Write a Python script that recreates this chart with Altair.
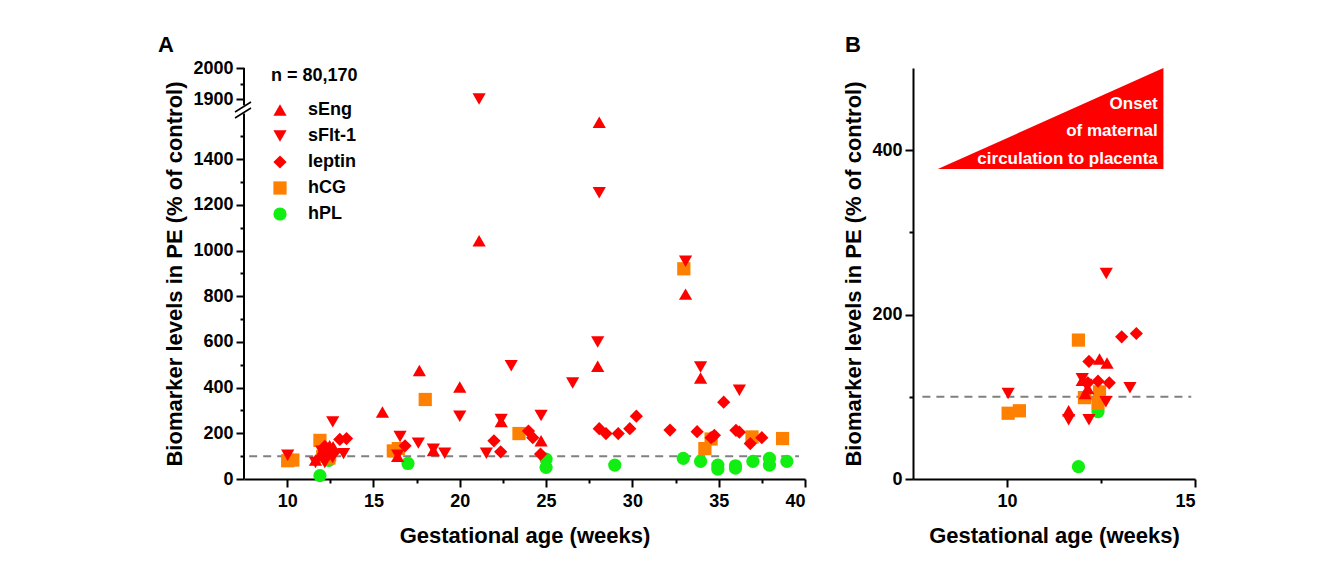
import altair as alt
import pandas as pd

FONT = "Liberation Sans"
RED = "#ff0000"
ORANGE = "#ff8000"
GREEN = "#11ee11"

series = ["sEng", "sFlt-1", "leptin", "hCG", "hPL"]
shapes = ["triangle-up", "triangle-down", "diamond", "square", "circle"]
colors = [RED, RED, RED, ORANGE, GREEN]
sizes = [175, 175, 215, 88, 112]

sEng_week = [11.64, 12.0, 12.08, 12.15, 12.46, 12.66, 15.52, 16.4, 17.66, 18.47, 20.0, 21.12,
             22.4, 24.71, 27.99, 28.08, 33.08, 33.95]
sEng_value = [83, 120, 104, 110, 146, 141, 293, 99, 475, 125, 403, 1043,
              252, 167, 493, 1561, 809, 442]

sFlt_week = [10.03, 11.64, 12.0, 12.1, 12.18, 12.63, 12.64, 13.27, 16.4, 16.54, 17.6, 18.47,
             19.13, 20.0, 21.12, 21.54, 22.4, 22.98, 24.71, 26.54, 27.99, 28.08, 33.08, 33.95, 36.2]
sFlt_value = [104, 72, 122, 115, 72, 94, 250, 111, 104, 186, 157, 130,
              113, 275, 1900, 113, 260, 496, 278, 420, 600, 1253, 953, 490, 388]

leptin_week = [12.15, 12.18, 12.42, 12.72, 13.05, 13.44, 16.83, 21.98, 22.37, 23.98, 24.23, 24.68,
               28.08, 28.47, 29.18, 29.85, 30.23, 32.18, 33.75, 34.56, 34.75, 35.29, 36.0, 36.2,
               36.83, 37.5]
leptin_value = [117, 143, 119, 117, 173, 177, 145, 167, 119, 210, 181, 109,
                220, 199, 199, 220, 275, 214, 207, 181, 191, 336, 213, 205,
                155, 181]

hCG_week = [10.03, 10.33, 11.9, 12.06, 12.42, 12.46, 16.15, 16.44, 18.0, 23.43, 32.98, 34.2,
            34.56, 36.93, 38.7]
hCG_value = [80, 83, 169, 99, 92, 106, 123, 133, 348, 199, 920, 133,
             175, 184, 177]

hPL_week = [11.9, 12.42, 17.0, 25.0, 25.0, 28.98, 32.95, 33.95, 34.95, 34.95, 35.97, 35.97,
            36.98, 37.94, 37.94, 38.95]
hPL_value = [15, 82, 68, 87, 51, 61, 90, 77, 61, 43, 58, 48,
             77, 90, 61, 77]

A_x_ticks = [10, 12.5, 15, 17.5, 20, 22.5, 25, 27.5, 30, 32.5, 35, 37.5, 40]
A_y_ticks = [0, 100, 200, 300, 400, 500, 600, 700, 800, 900, 1000, 1100, 1200, 1300, 1400,
             1500, 1900, 1950, 2000]
B_x_ticks = [10, 12.5, 15]
B_y_ticks = [0, 100, 200, 300, 400]

annotation_lines = ["Onset", "of maternal", "circulation to placenta"]

rows = []
for name, wk, val in [("hPL", hPL_week, hPL_value), ("hCG", hCG_week, hCG_value),
                      ("leptin", leptin_week, leptin_value), ("sFlt-1", sFlt_week, sFlt_value),
                      ("sEng", sEng_week, sEng_value)]:
    for w, v in zip(wk, val):
        rows.append({"week": w, "value": v, "marker": name})
df = pd.DataFrame(rows)


def axis(values, label_test, title, title_pad, label_pad, fmt="d", domain=True):
    return alt.Axis(
        values=values, format=fmt,
        labelExpr=f"({label_test}) ? datum.label : ''",
        tickSize={"condition": {"test": label_test, "value": 8}, "value": 4},
        tickWidth=2, tickColor="black", domain=domain, domainColor="black", domainWidth=2,
        grid=False, labelFont=FONT, labelFontSize=18, labelFontWeight="bold", labelColor="black",
        labelPadding=label_pad, title=title, titleFont=FONT, titleFontSize=22,
        titleFontWeight="bold", titleColor="black", titlePadding=title_pad,
    )


leg = alt.Legend(title="n = 80,170", orient="none", legendX=27, legendY=-1,
                 titleFont=FONT, titleFontSize=18, titleFontWeight="bold", titleColor="black",
                 titlePadding=16, labelFont=FONT, labelFontSize=18, labelFontWeight="bold",
                 labelColor="black", labelOffset=19, rowPadding=8, symbolStrokeWidth=0,
                 symbolOpacity=1, padding=0)

# ---------------- Panel A ----------------
xA_scale = alt.Scale(domain=[7.5, 40], nice=False, zero=False)
yA_scale = alt.Scale(domain=[0, 1600, 1880, 2000], range=[411, 45.4, 37.2, 0], nice=False, zero=False)
xA_axis = axis(A_x_ticks, "datum.value % 5 == 0", "Gestational age (weeks)", 15, 5)
yA_axis = axis(A_y_ticks,
               "(datum.value <= 1400 && datum.value % 200 == 0) || datum.value == 1900 || datum.value == 2000",
               "Biomarker levels in PE (% of control)", 6, 3, domain=False)


def XA(f="week"):
    return alt.X(f"{f}:Q", scale=xA_scale, axis=xA_axis)


def YA(f="value"):
    return alt.Y(f"{f}:Q", scale=yA_scale, axis=yA_axis)


ptsA = alt.Chart(df).mark_point(filled=True, opacity=1, strokeWidth=0).encode(
    x=XA(), y=YA(),
    color=alt.Color("marker:N", scale=alt.Scale(domain=series, range=colors), legend=leg),
    shape=alt.Shape("marker:N", scale=alt.Scale(domain=series, range=shapes), legend=leg),
    size=alt.Size("marker:N", scale=alt.Scale(domain=series, range=sizes), legend=leg),
)

refA = alt.Chart(pd.DataFrame({"week": [7.8], "week2": [39.65], "value": [100]})).mark_rule(
    color="#808080", strokeWidth=2, strokeDash=[8, 6]).encode(x=XA(), x2="week2:Q", y=YA())

segA = alt.Chart(pd.DataFrame({"week": [7.5, 7.5], "value": [0, 1880], "value2": [1600, 2000]})).mark_rule(
    color="black", strokeWidth=2).encode(x=XA(), y=YA(), y2="value2:Q")

one = pd.DataFrame({"k": [0]})
brk1 = alt.Chart(one).mark_rule(color="black", strokeWidth=1.5).encode(
    x=alt.value(-9), x2=alt.value(7), y=alt.value(44), y2=alt.value(34))
brk2 = alt.Chart(one).mark_rule(color="black", strokeWidth=1.5).encode(
    x=alt.value(-9), x2=alt.value(7), y=alt.value(50), y2=alt.value(40))
labA = alt.Chart(one).mark_text(text="A", font=FONT, fontSize=22, fontWeight="bold", color="black",
                                align="center", baseline="middle").encode(x=alt.value(-78), y=alt.value(-23))

panelA = alt.layer(refA, segA, brk1, brk2, ptsA, labA).properties(width=561, height=411)

# ---------------- Panel B ----------------
xB_scale = alt.Scale(domain=[7.5, 15], nice=False, zero=False)
yB_scale = alt.Scale(domain=[0, 500], nice=False, zero=False)
xB_axis = axis(B_x_ticks, "datum.value % 5 == 0", "Gestational age (weeks)", 15, 5)
yB_axis = axis(B_y_ticks, "datum.value % 200 == 0", "Biomarker levels in PE (% of control)", 6, 3)


def XB(f="week"):
    return alt.X(f"{f}:Q", scale=xB_scale, axis=xB_axis)


def YB(f="value"):
    return alt.Y(f"{f}:Q", scale=yB_scale, axis=yB_axis)


tri = alt.Chart(pd.DataFrame({"week": [8.16, 14.16], "value": [377, 500], "value2": [377, 377]})).mark_area(
    color=RED, opacity=1, interpolate="linear").encode(x=XB(), y=YB(), y2="value2:Q")

txt = alt.Chart(pd.DataFrame({"week": [14.01] * 3, "value": [456.6, 423.0, 389.0],
                              "label": annotation_lines})).mark_text(
    align="right", baseline="middle", color="white", font=FONT, fontSize=17, fontWeight="bold").encode(
    x=XB(), y=YB(), text="label:N")

refB = alt.Chart(pd.DataFrame({"week": [7.75], "week2": [14.9], "value": [100]})).mark_rule(
    color="#808080", strokeWidth=2, strokeDash=[8, 6]).encode(x=XB(), x2="week2:Q", y=YB())

ptsB = alt.Chart(df).transform_filter("datum.week <= 15").mark_point(
    filled=True, opacity=1, strokeWidth=0).encode(
    x=XB(), y=YB(),
    color=alt.Color("marker:N", scale=alt.Scale(domain=series, range=colors), legend=None),
    shape=alt.Shape("marker:N", scale=alt.Scale(domain=series, range=shapes), legend=None),
    size=alt.Size("marker:N", scale=alt.Scale(domain=series, range=sizes), legend=None),
)

labB = alt.Chart(one).mark_text(text="B", font=FONT, fontSize=22, fontWeight="bold", color="black",
                                align="center", baseline="middle").encode(x=alt.value(-60), y=alt.value(-23))

panelB = alt.layer(tri, txt, refB, ptsB, labB).properties(width=282, height=411)

chart = alt.hconcat(panelA, panelB, spacing=36).resolve_scale(
    color="independent", shape="independent", size="independent"
).properties(
    padding={"left": 150, "top": 26, "right": 5, "bottom": 5},
    background="white",
).configure_view(stroke=None)

chart.save("out.html", embed_options={"renderer": "svg", "actions": False})
